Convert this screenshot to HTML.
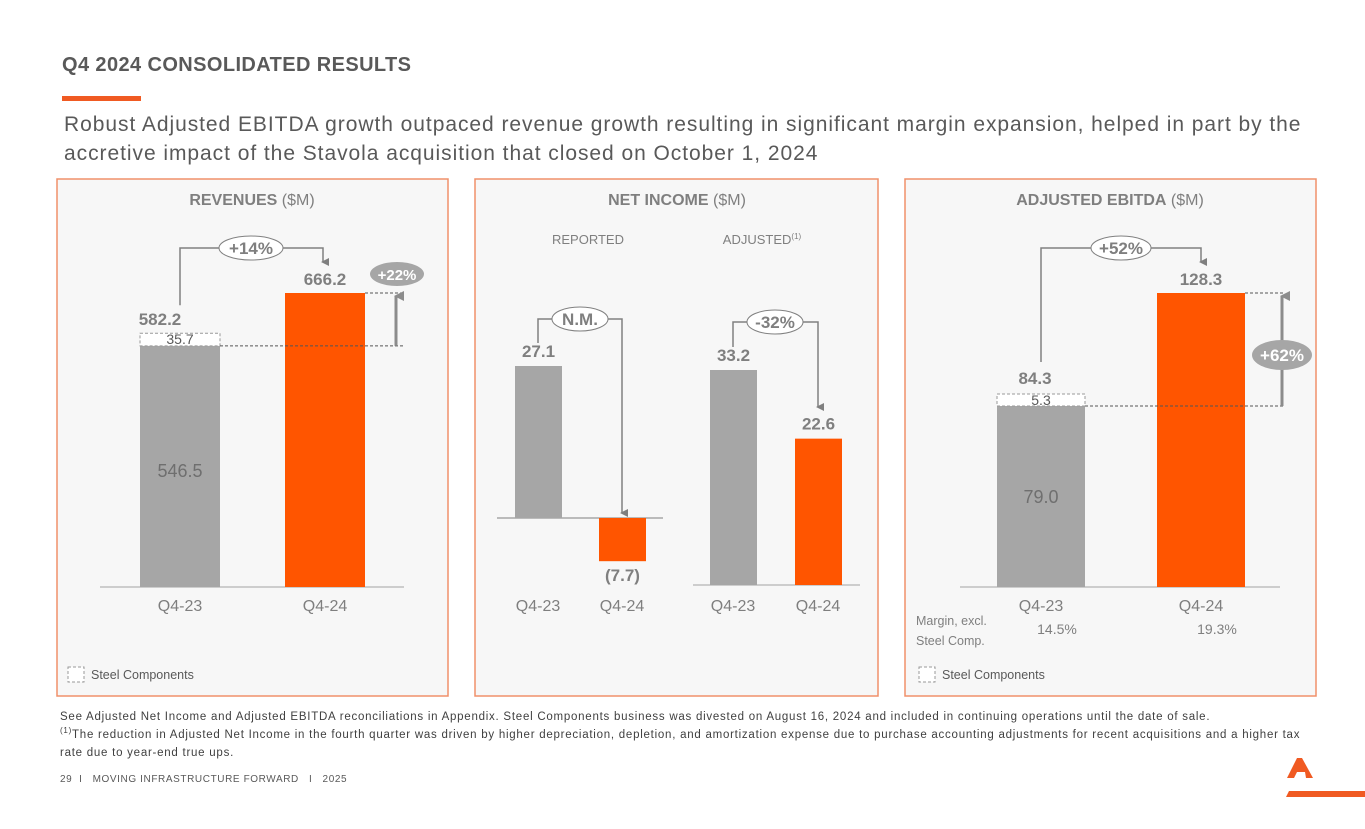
<!DOCTYPE html>
<html><head><meta charset="utf-8"><style>
body{margin:0;width:1365px;height:829px;background:#fff;font-family:"Liberation Sans",sans-serif;overflow:hidden;position:relative}
.abs{position:absolute}
</style></head><body>
<div class="abs" style="left:62px;top:54px;font-size:20px;font-weight:bold;color:#595959;letter-spacing:0.4px">Q4 2024 CONSOLIDATED RESULTS</div>
<div class="abs" style="left:62px;top:96px;width:79px;height:5px;background:#f05a22"></div>
<div class="abs" style="left:64px;top:110px;font-size:21px;line-height:29px;color:#595959;width:1290px;letter-spacing:0.95px">Robust Adjusted EBITDA growth outpaced revenue growth resulting in significant margin expansion, helped in part by the accretive impact of the Stavola acquisition that closed on October 1, 2024</div>
<svg class="abs" style="left:0;top:0" width="1365" height="829" id="svg" font-family="Liberation Sans, sans-serif"></svg>
<div class="abs" style="left:60px;top:708px;font-size:11.5px;line-height:18px;color:#404040;width:1255px;letter-spacing:0.75px">See Adjusted Net Income and Adjusted EBITDA reconciliations in Appendix. Steel Components business was divested on August 16, 2024 and included in continuing operations until the date of sale.<br><sup style="font-size:8px;line-height:0">(1)</sup>The reduction in Adjusted Net Income in the fourth quarter was driven by higher depreciation, depletion, and amortization expense due to purchase accounting adjustments for recent acquisitions and a higher tax rate due to year-end true ups.</div>
<div class="abs" style="left:60px;top:774px;font-size:10px;color:#595959;letter-spacing:0.6px">29 &nbsp;I &nbsp; MOVING INFRASTRUCTURE FORWARD &nbsp; I &nbsp; 2025</div>
<script>
const revCats=["Q4-23","Q4-24"];const revVals=[546.5,666.2];const revSteel=35.7;const revTotals=["582.2","666.2"];
const niRepVals=[27.1,-7.7];const niAdjVals=[33.2,22.6];const niRepLabels=["27.1","(7.7)"];const niAdjLabels=["33.2","22.6"];
const ebCats=["Q4-23","Q4-24"];const ebVals=[79.0,128.3];const ebSteel=5.3;const ebTotals=["84.3","128.3"];const ebMargins=["14.5%","19.3%"];
const S=document.getElementById('svg');const NS="http://www.w3.org/2000/svg";
function el(t,a,txt){const e=document.createElementNS(NS,t);for(const k in a)e.setAttribute(k,a[k]);if(txt!=null)e.textContent=txt;S.appendChild(e);return e;}
const G="#a6a6a6",O="#ff5500",T="#7f7f7f";
el('defs',{}).innerHTML='<marker id="ar" markerWidth="8" markerHeight="8" refX="4" refY="6" orient="auto" markerUnits="userSpaceOnUse"><path d="M0,0L8,0L4,8z" fill="#7f7f7f"/></marker><marker id="au" markerWidth="10" markerHeight="10" refX="5" refY="2" orient="auto" markerUnits="userSpaceOnUse"><path d="M0,10L10,10L5,0z" fill="#8c8c8c"/></marker>';
function panel(x,w,name){const r=el('rect',{x:x,y:179,width:w,height:517,fill:"#f7f7f7",stroke:"#f0906a","stroke-width":1.5});}
panel(57,391,'revenues-panel');panel(475,403,'net-income-panel');panel(905,411,'ebitda-panel');
function txt(x,y,s,o){const a=Object.assign({x:x,y:y,fill:T,"font-size":16,"text-anchor":"middle"},o||{});const t=el('text',a,s);return t;}
function title(x,b,r,name){const t=el('text',{x:x,y:205,fill:T,"font-size":16,"text-anchor":"middle"});t.innerHTML='<tspan font-weight="bold">'+b+'</tspan> '+r;}
title(252,'REVENUES','($M)','revenues-title');title(677,'NET INCOME','($M)','net-income-title');title(1110,'ADJUSTED EBITDA','($M)','ebitda-title');
function bar(x,w,y0,y1,c,name){const r=el('rect',{x:x,y:Math.min(y0,y1),width:w,height:Math.abs(y1-y0),fill:c});return r;}
function line(x1,y1,x2,y2,o){return el('line',Object.assign({x1,y1,x2,y2,stroke:"#808080","stroke-width":1.5},o||{}));}
function bubble(cx,cy,rx,s,filled){el('ellipse',{cx,cy,rx,ry:12,fill:filled?G:"#fff",stroke:filled?"none":"#808080","stroke-width":1});const t=txt(cx,cy+6,s,{"font-weight":"bold","font-size":filled?15:17,fill:filled?"#fff":T});}
function legend(x,name){el('rect',{x:x,y:667,width:16,height:15,fill:"#fff",stroke:"#999","stroke-dasharray":"3,2"});const t=txt(x+23,679,'Steel Components',{"font-size":12.5,"text-anchor":"start",fill:"#595959"});}
// Revenues
(function(){const base=587,k=294/666.2,xs=[140,285],w=80;const ys=revVals.map(v=>base-v*k);
line(100,base,404,base,{stroke:"#bfbfbf"});
bar(xs[0],w,base,ys[0],G,'bar-revenue-q4-23');bar(xs[1],w,base,ys[1],O,'bar-revenue-q4-24');
const sy=ys[0]-revSteel*k*0.8;el('rect',{x:xs[0],y:sy,width:w,height:ys[0]-sy,fill:"#fff",stroke:"#999","stroke-dasharray":"3,2"});
txt(xs[0]+w/2,sy+11,String(revSteel),{"font-size":14,fill:"#595959"});
txt(xs[0]+w/2,ys[0]+131,"546.5",{"font-size":18,fill:"#6f6f6f"});
txt(xs[0]+w/2-20,sy-8,revTotals[0],{"font-weight":"bold","font-size":17});txt(xs[1]+w/2,ys[1]-8,revTotals[1],{"font-weight":"bold","font-size":17});
line(xs[0]+w,ys[0],403,ys[0],{"stroke-dasharray":"3,2","stroke-width":1,stroke:"#555"});line(xs[1]+w,ys[1],403,ys[1],{"stroke-dasharray":"3,2","stroke-width":1,stroke:"#555"});
line(396,ys[0],396,ys[1]+3,{"stroke-width":3,stroke:"#8c8c8c","marker-end":"url(#au)"});
el('polyline',{points:`180,${sy-28} 180,248 323,248 323,262`,fill:"none",stroke:"#808080","stroke-width":1.5,"marker-end":"url(#ar)"});
bubble(251,248,32,'+14%');bubble(397,274,27,'+22%',true);
revCats.forEach((c,i)=>txt(xs[i]+w/2,611,c,{"font-size":16}));legend(68,'legend-steel-components');})();
// Net income
(function(){const b1=518,k1=152/27.1,b2=585,k2=215/33.2,w=47;
txt(588,244,'REPORTED',{"font-size":13});const a=txt(762,244,'ADJUSTED',{"font-size":13});a.innerHTML='ADJUSTED<tspan font-size="8" dy="-5">(1)</tspan>';
line(497,b1,663,b1,{stroke:"#7f7f7f","stroke-width":1});line(693,b2,860,b2,{stroke:"#bfbfbf"});
const rx=[515,599],ax=[710,795];
niRepVals.forEach((v,i)=>{const y=b1-v*k1;bar(rx[i],w,b1,y,i?O:G,'bar-net-income-reported-'+i);txt(rx[i]+w/2,v>=0?y-9:y+20,niRepLabels[i],{"font-weight":"bold","font-size":17});});
niAdjVals.forEach((v,i)=>{const y=b2-v*k2;bar(ax[i],w,b2,y,i?O:G,'bar-net-income-adjusted-'+i);txt(ax[i]+w/2,y-9,niAdjLabels[i],{"font-weight":"bold","font-size":17});});
el('polyline',{points:`538,343 538,319 622,319 622,513`,fill:"none",stroke:"#808080","stroke-width":1.5,"marker-end":"url(#ar)"});
el('polyline',{points:`733,347 733,322 818,322 818,407`,fill:"none",stroke:"#808080","stroke-width":1.5,"marker-end":"url(#ar)"});
bubble(580,319,28,'N.M.');bubble(775,322,28,'-32%');
["Q4-23","Q4-24","Q4-23","Q4-24"].forEach((c,i)=>txt([538,622,733,818][i],611,c,{"font-size":16}));})();
// EBITDA
(function(){const base=587,k=294/128.3,xs=[997,1157],w=88;const ys=ebVals.map(v=>base-v*k);
line(960,base,1280,base,{stroke:"#bfbfbf"});
bar(xs[0],w,base,ys[0],G,'bar-ebitda-q4-23');bar(xs[1],w,base,ys[1],O,'bar-ebitda-q4-24');
const sy=ys[0]-12;el('rect',{x:xs[0],y:sy,width:w,height:12,fill:"#fff",stroke:"#999","stroke-dasharray":"3,2"});
txt(xs[0]+w/2,sy+11,String(ebSteel),{"font-size":14,fill:"#595959"});
txt(xs[0]+w/2,ys[0]+97,"79.0",{"font-size":18,fill:"#6f6f6f"});
txt(xs[0]+w/2-6,sy-10,ebTotals[0],{"font-weight":"bold","font-size":17});txt(xs[1]+w/2,ys[1]-8,ebTotals[1],{"font-weight":"bold","font-size":17});
line(xs[0]+w,ys[0],1285,ys[0],{"stroke-dasharray":"3,2","stroke-width":1,stroke:"#555"});line(xs[1]+w,ys[1],1285,ys[1],{"stroke-dasharray":"3,2","stroke-width":1,stroke:"#555"});
line(1282,ys[0],1282,ys[1]+3,{"stroke-width":3,stroke:"#8c8c8c","marker-end":"url(#au)"});
el('polyline',{points:`1041,362 1041,248 1201,248 1201,262`,fill:"none",stroke:"#808080","stroke-width":1.5,"marker-end":"url(#ar)"});
bubble(1121,248,30,'+52%');el('ellipse',{cx:1282,cy:355,rx:30,ry:15,fill:G});txt(1282,361,'+62%',{"font-weight":"bold","font-size":17,fill:"#fff"});
ebCats.forEach((c,i)=>txt(xs[i]+w/2,611,c,{"font-size":16}));
txt(916,625,'Margin, excl.',{"font-size":12.5,"text-anchor":"start"});txt(916,645,'Steel Comp.',{"font-size":12.5,"text-anchor":"start"});
ebMargins.forEach((m,i)=>txt(xs[i]+w/2+16,634,m,{"font-size":14}));legend(919,'legend-steel-components-ebitda');})();
el('path',{d:"M1302,758 L1297,758 L1287,778 L1294,778 L1297,772 L1305,772 L1306,778 L1313,778 Z M1300,766 L1304,766 L1303,762Z",fill:"#f05a22"});
el('path',{d:"M1289,791 L1365,791 L1365,797 L1286,797 Z",fill:"#f05a22"});
</script>
</body></html>
